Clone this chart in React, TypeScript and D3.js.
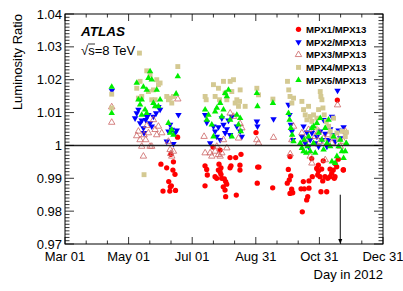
import React from 'react'
import * as d3 from 'd3'

// day of year 2012 (Mar 01 = 61, Dec 31 = 366), luminosity ratio
const mpx1: [number, number][] = [
  [153, 0.9943], [155, 0.9861], [158.5, 0.9932], [160.5, 0.989], [161.5, 0.9861], [162, 0.9874],
  [162.5, 0.9973], [163, 0.9877], [164.5, 0.9925], [165, 0.995], [166.5, 0.9912], [169, 1.0025], [167, 0.9863],
  [195.3, 0.9938], [196.9, 0.9927], [197.5, 0.991], [195.3, 0.9877], [208.7, 0.9943], [210.6, 0.9932],
  [209.7, 0.992], [208.1, 0.9925], [210.6, 0.9912], [204.9, 0.9905], [206.5, 0.99], [211.3, 0.99],
  [213.8, 0.9898], [215.1, 0.989], [212.8, 0.9874], [216.1, 0.9882], [214.5, 0.9864], [215.1, 0.9844],
  [225.3, 0.9849], [219.3, 0.9963], [224.7, 0.9963], [229.8, 0.9973], [220.2, 0.9938], [219.3, 0.9932],
  [228.8, 0.994], [228.8, 0.9925], [209.7, 0.9986], [203, 0.9995],
  [244.2, 1.0039], [245.8, 0.9934], [247, 0.9934], [245.4, 0.9885], [260.2, 0.9871],
  [275.2, 0.9927], [277.5, 0.9907], [276.1, 0.9895], [274.2, 0.9885], [278.4, 0.9867], [279.4, 0.9856], [276.8, 0.9854],
  [289.6, 0.989], [295, 0.9892], [287.4, 0.9868], [290.5, 0.9868], [295, 0.987], [293.8, 0.9844], [292.8, 0.9834],
  [288.6, 0.9798], [298.2, 0.9905], [302.4, 0.993], [307.2, 0.9928], [304, 0.9922], [303.4, 0.991],
  [305.6, 0.9905], [310.4, 0.9905], [308.2, 0.9892], [313, 0.99], [315.2, 0.9905], [316.8, 0.9915],
  [320, 0.9905], [319.3, 0.99], [306.5, 0.9859], [312, 0.9859], [318.3, 0.9925], [327.9, 0.9925],
  [321.6, 0.9935], [320, 0.9945], [308.7, 0.9953], [304, 0.994], [297.6, 0.996], [323.1, 0.9958],
  [315.2, 0.9928], [322.2, 1.0138], [328, 0.9926], [276.8, 0.9966]
]

const mpx2: [number, number][] = [
  [106, 1.0167],
  [128.2, 1.0083], [129.8, 1.0098], [131.4, 1.0109], [133, 1.0068], [134.6, 1.0076], [136.2, 1.0053],
  [136.8, 1.0038], [138.4, 1.0078], [139.4, 1.0088], [141, 1.0093], [142.6, 1.0068], [144.2, 1.0058],
  [145.8, 1.0088], [148.4, 1.0098], [150.6, 1.0117], [152.2, 1.0109],
  [158.6, 1.0012], [160.2, 1.0043], [161.8, 1.0063], [163.4, 1.0048], [165, 1.0005], [166.6, 1.0038],
  [168.2, 1.0046], [169.8, 1.0093],
  [195.4, 1.0093], [197, 1.007], [200.2, 1.0007], [203.4, 1.0058], [205, 1.0043], [206.6, 1.0027],
  [208.2, 1.0056], [209.8, 1.0017], [211.4, 1.0083], [213, 1.0063], [214.6, 1.0038], [216.2, 1.005],
  [217.8, 1.0076], [219.4, 1.0032], [221, 1.0088], [225.8, 1.0058], [229, 1.0043], [230.6, 1.0027],
  [245, 1.0073], [245.6, 1.0058], [261, 1.008], [275.4, 1.0124], [276.4, 1.0093], [277.6, 1.0063],
  [278.6, 1.0043], [279.6, 1.0017],
  [288.2, 1.0027], [289.8, 1.0058], [291.4, 1.0007], [293, 1.004], [294.6, 0.9997], [296.2, 1.0017],
  [297.8, 1.0038], [299.4, 1.0053], [301, 1.0007], [302.6, 1.0027], [304.2, 0.9997], [305.8, 1.0043],
  [307.4, 1.0017], [309, 1.0078], [310.6, 1.0036], [312.2, 0.9997], [313.8, 1.0017], [315.4, 1.005],
  [317, 1.0088], [318.6, 1.0032], [320.2, 1.0012], [322.4, 1.0167], [323.4, 1.0046], [325, 1.0022],
  [328.2, 1.0056], [329.8, 1.0038]
]

const mpx3: [number, number][] = [
  [105.8, 1.0117], [105.8, 1.007],
  [129.8, 1.0029], [131.4, 1.0043], [133, 1.0017], [134.6, 0.9997], [136.2, 0.9967], [136.8, 1.0032],
  [138.4, 1.0017], [139.4, 1.006], [141, 1.0038], [142.6, 0.9997], [144.2, 0.9997], [145.8, 1.0078],
  [147.4, 1.0048], [149, 1.0032], [150.6, 1.0058], [153.8, 1.0038],
  [160.2, 1.0012], [161.8, 0.9987], [162.4, 0.9975], [163.4, 0.9967], [165, 0.9982], [169.2, 1.0141],
  [194.4, 1.0027], [195.4, 0.9977], [200.2, 0.9977], [201.8, 0.9967], [205, 0.9982], [206.6, 0.9997],
  [208.2, 0.9972], [209.8, 0.9967], [211.4, 0.9977], [213, 1.0017], [216.2, 0.9992], [219.4, 1.0098],
  [222.6, 1.0088], [227.4, 1.0022], [229, 1.0066], [230.6, 1.0053],
  [245, 1.0017], [246.6, 1.0007], [261, 1.0024], [277, 0.9974], [278.6, 1.0017], [280.2, 1.0058],
  [288.2, 1.0038], [291.4, 1.0017], [294.6, 1.0048], [296.2, 0.9967], [297.8, 0.9946], [301, 1.0027],
  [304.2, 1.0043], [305.8, 1.0012], [309, 1.0022], [310.6, 0.9956], [313.8, 1.0032], [317, 1.0007],
  [321.8, 1.0027], [322.4, 1.0123], [325, 0.9997], [328.2, 1.0012], [329.8, 1.0043]
]

const mpx4: [number, number][] = [
  [105.8, 1.0156], [105.8, 1.0114],
  [132.4, 1.0281], [129.8, 1.0174], [131.4, 1.0144], [133, 1.0195], [134.6, 1.0149], [139.4, 1.0227],
  [141, 1.0164], [142.6, 1.0215], [144.2, 1.0139], [145.8, 1.0169], [147.4, 1.0139], [149, 1.02],
  [150.6, 1.0185], [152.2, 1.019], [136.8, 0.9911],
  [158.6, 1.0149], [160.2, 1.0139], [161.8, 1.0144], [163.4, 1.0129], [165, 1.0149], [169.2, 1.024],
  [195.4, 1.0149], [196.4, 1.0139], [203.4, 1.0185], [205, 1.0149], [208.2, 1.0174], [209.2, 1.0139],
  [213, 1.0195], [214.6, 1.0159], [216.2, 1.0139], [219.4, 1.0195], [221, 1.0164], [222.6, 1.02],
  [224.2, 1.0129], [225.8, 1.0139], [227.4, 1.0119], [229, 1.0169], [228.4, 1.0134], [233.8, 1.0119],
  [245, 1.0174], [246.6, 1.0154], [260.4, 1.0141], [274.4, 1.0195], [275.6, 1.0169], [276.8, 1.0149],
  [278.6, 1.0129], [280.2, 1.0144],
  [288.2, 1.0134], [289.8, 1.0109], [291.4, 1.0093], [293, 1.0078], [294.6, 1.0119], [296.2, 1.0088],
  [297.8, 1.0073], [299.4, 1.0093], [301, 1.0053], [302.6, 1.0083], [304.2, 1.0109], [305.8, 1.0164],
  [306.4, 1.0149], [307.4, 1.0139], [308.4, 1.0114], [309.6, 1.0093], [311.6, 1.0073], [313.8, 1.0058],
  [315.4, 1.0043], [317, 1.0027], [318.6, 1.0083], [321.8, 1.0038], [323.4, 1.0017], [326.6, 1.0043],
  [329.8, 1.0027], [330.8, 1.004]
]

const mpx5: [number, number][] = [
  [105.8, 1.0178], [105.8, 1.0098],
  [129.8, 1.019], [131.4, 1.0139], [133, 1.0124], [134.6, 1.0139], [136.2, 1.0178], [137.8, 1.0109],
  [139.4, 1.0169], [141, 1.0205], [142.6, 1.0225], [144.2, 1.02], [145.8, 1.0129], [147.4, 1.0119],
  [149, 1.0169], [150.6, 1.0119], [152.2, 1.0139], [134.6, 1.0093], [139.4, 1.0098],
  [160.2, 1.0068], [161.8, 1.0038], [163.4, 1.0048], [165, 1.0032], [167.6, 1.0157], [169.2, 1.021],
  [195.4, 1.0109], [197, 1.0078], [198.6, 1.0093], [201.8, 1.0063], [203.4, 1.0027], [205, 1.0103],
  [206.6, 1.0114], [209.8, 1.0129], [211.4, 1.0088], [213, 1.0109], [214.6, 1.0159], [216.2, 1.0149],
  [217.8, 1.0169], [219.4, 1.0078], [221, 1.0027], [225.8, 1.0093], [227.4, 1.0063], [229, 1.0083],
  [229.6, 1.0043],
  [245, 1.0159], [245.6, 1.0119], [260.4, 1.0129], [275.4, 1.0098], [276.4, 1.0078], [277.6, 1.0053],
  [278.9, 1.0032], [280.2, 1.0012],
  [286.6, 1.0007], [288.2, 0.9992], [289.8, 0.9982], [290.4, 1.0017], [292.4, 0.9977], [293.6, 0.9997],
  [294.6, 1.0027], [296.2, 0.9982], [297.8, 1.0053], [299.4, 1.0007], [301, 0.9977], [302.6, 1.0068],
  [304.2, 1.0038], [305.8, 1.0083], [307.4, 1.0017], [309, 0.9987], [310.6, 1.0053], [312.2, 1.0007],
  [313.8, 1.0078], [315.4, 0.9997], [317, 0.9951], [318.6, 1.0027], [320.2, 0.9946], [321.8, 0.9967],
  [323.4, 0.9997], [325, 1.0017], [326.6, 0.9982], [328.2, 0.9961], [329.8, 0.9982], [330.8, 1.0007],
  [299.4, 1.0058]
]

const xTickDays = [61, 122, 183, 244, 305, 366]
const xTickLabels = ['Mar 01', 'May 01', 'Jul 01', 'Aug 31', 'Oct 31', 'Dec 31']
const yTicks = [0.97, 0.98, 0.99, 1, 1.01, 1.02, 1.03, 1.04]
const yTickLabels = ['0.97', '0.98', '0.99', '1', '1.01', '1.02', '1.03', '1.04']
const legendNames = ['MPX1/MPX13', 'MPX2/MPX13', 'MPX3/MPX13', 'MPX4/MPX13', 'MPX5/MPX13']
const arrowDay = 325
const arrowTop = 0.985

const W = 403
const H = 291
const left = 65
const right = 383
const top = 14
const bottom = 244
const font = '"Liberation Sans", Arial, Helvetica, sans-serif'

const styles = [
  { sym: d3.symbolCircle, size: 22, fill: '#ff0000', stroke: 'none', rot: 0 },
  { sym: d3.symbolTriangle, size: 18, fill: '#0000ff', stroke: 'none', rot: 180 },
  { sym: d3.symbolTriangle, size: 18, fill: 'none', stroke: '#cc6666', rot: 0 },
  { sym: d3.symbolSquare, size: 24, fill: '#d4c992', stroke: 'none', rot: 0 },
  { sym: d3.symbolTriangle, size: 18, fill: '#00ee00', stroke: 'none', rot: 0 }
]

export default function App() {
  const x = d3.scaleLinear().domain([61, 366]).range([left, right])
  const y = d3.scaleLinear().domain([0.97, 1.04]).range([bottom, top])
  const series = [mpx1, mpx2, mpx3, mpx4, mpx5]

  const xMinor = d3.range(61, 366.1, 61 / 3)
  const yMinor = d3.range(0, 71).map((i) => 0.97 + i * 0.001)

  const marker = (i: number, cx: number, cy: number, key: string) => {
    const s = styles[i]
    const d = d3.symbol().type(s.sym).size(s.size)() as string
    return (
      <path
        key={key}
        d={d}
        transform={`translate(${cx},${cy}) rotate(${s.rot})`}
        fill={s.fill}
        stroke={s.stroke}
        strokeWidth={0.8}
      />
    )
  }

  return (
    <svg width={W} height={H} style={{ position: 'absolute', left: 0, top: 0, background: '#fff' }} fontFamily={font}>
      <rect x={0} y={0} width={W} height={H} fill="#fff" />
      {/* data */}
      {series.map((s, i) => (
        <g key={i}>{s.map((p, j) => marker(i, x(p[0]), y(p[1]), `${i}-${j}`))}</g>
      ))}
      {/* line at 1 */}
      <line x1={left} x2={right} y1={y(1)} y2={y(1)} stroke="#222" strokeWidth={1.5} />
      {/* arrow */}
      <line x1={x(arrowDay)} x2={x(arrowDay)} y1={y(arrowTop)} y2={bottom - 4} stroke="#000" strokeWidth={1} />
      <path
        d={`M${x(arrowDay) - 2},${bottom - 5} L${x(arrowDay) + 2},${bottom - 5} L${x(arrowDay)},${bottom} Z`}
        fill="#000"
      />
      {/* frame */}
      <rect x={left} y={top} width={right - left} height={bottom - top} fill="none" stroke="#000" strokeWidth={1} />
      {/* x ticks */}
      {xMinor.map((d, i) => {
        const major = i % 3 === 0
        const len = major ? 7 : 3.5
        return (
          <g key={`xt${i}`} stroke="#000" strokeWidth={0.8}>
            <line x1={x(d)} x2={x(d)} y1={bottom} y2={bottom - len} />
            <line x1={x(d)} x2={x(d)} y1={top} y2={top + len} />
          </g>
        )
      })}
      {/* y ticks */}
      {yMinor.map((v, i) => {
        const major = i % 10 === 0
        const len = major ? 9 : 4.5
        return (
          <g key={`yt${i}`} stroke="#000" strokeWidth={0.8}>
            <line x1={left} x2={left + len} y1={y(v)} y2={y(v)} />
            <line x1={right} x2={right - len} y1={y(v)} y2={y(v)} />
          </g>
        )
      })}
      {/* tick labels */}
      {xTickDays.map((d, i) => (
        <text key={`xl${i}`} x={x(d)} y={261} textAnchor="middle" fontSize={13} fill="#000">
          {xTickLabels[i]}
        </text>
      ))}
      {yTicks.map((v, i) => (
        <text key={`yl${i}`} x={62} y={y(v) + 4.5} textAnchor="end" fontSize={13} fill="#000">
          {yTickLabels[i]}
        </text>
      ))}
      {/* axis titles */}
      <text x={right} y={279} textAnchor="end" fontSize={13} fill="#000">
        Day in 2012
      </text>
      <text transform={`translate(22,${top}) rotate(-90)`} textAnchor="end" fontSize={13} fill="#000">
        Luminosity Ratio
      </text>
      {/* labels */}
      <text x={81} y={36} fontSize={13.5} fontWeight="bold" fontStyle="italic" fill="#000">
        ATLAS
      </text>
      <text x={81} y={55} fontSize={13} fill="#000">
        √s=8 TeV
      </text>
      <line x1={88} x2={95} y1={44} y2={44} stroke="#000" strokeWidth={0.8} />
      {/* legend */}
      {legendNames.map((n, i) => {
        const cy = 29.3 + i * 12.7
        return (
          <g key={`lg${i}`}>
            {marker(i, 298.5, cy, `lm${i}`)}
            <text x={306} y={cy + 3.5} fontSize={9.6} fontWeight="bold" fill="#000">
              {n}
            </text>
          </g>
        )
      })}
    </svg>
  )
}
